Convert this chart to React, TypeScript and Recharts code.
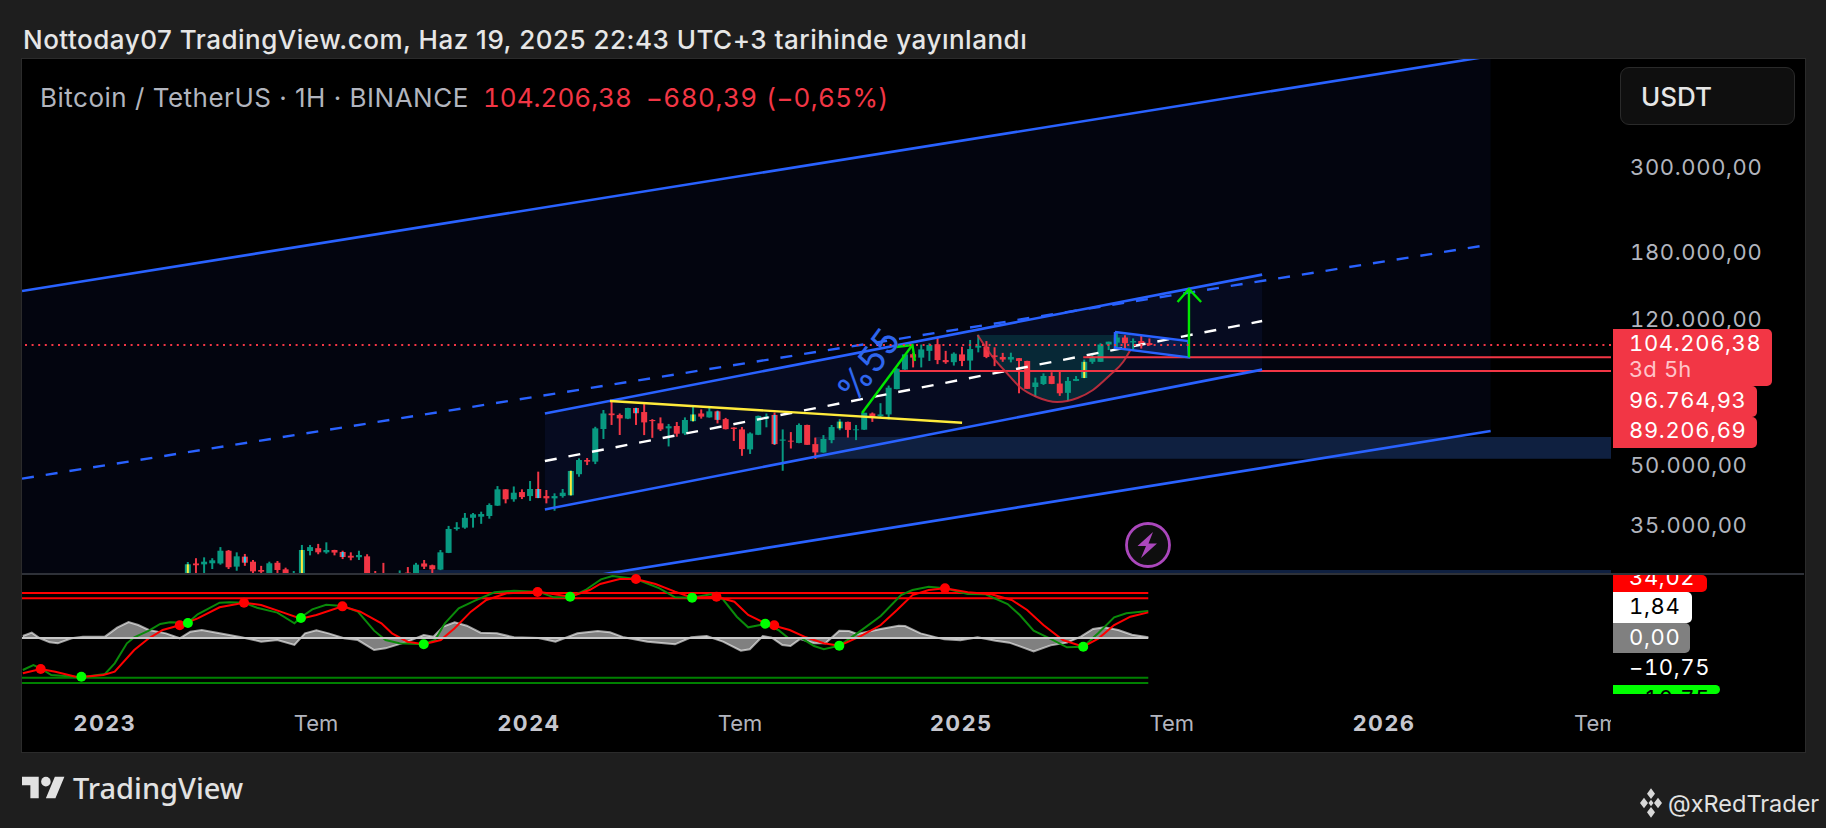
import React from 'react';
import { ComposedChart, Bar, Cell, Line, Area, XAxis, YAxis, ReferenceArea, ReferenceLine } from 'recharts';

// ---------- candles (weekly bars, first bar is week 10 of the time axis) ----------
const firstCandleWeek = 10;
const candleOpen = [25000,28100,27950,28130,28100,30330,27570,29270,28400,27020,25800,28200,27130,25800,25700,30280,30800,30040,30460,30100,29430,29170,29330,26000,26300,26000,26000,26600,26400,28100,27800,27080,29940,34560,34840,36960,37200,37360,39750,43840,41290,43130,42100,43930,42100,41530,42100,42300,48000,52270,51750,62960,69100,68500,67000,71400,69700,66450,65130,63200,64100,61300,66000,69100,67500,70000,66800,63500,62800,55700,60800,67300,68500,58700,58700,57900,64500,57500,54700,58900,63200,65700,62500,62700,69100,68000,68700,80000,89900,98600,96600,100600,104700,95200,94000,98500,94900,102600,103200,97900,97000,95500,96300,94700,81000,82500,86500,82700,78200,84000,85500,94200,94200,104500,105700,109000,105800,106700,105400];
const candleHigh = [28350,29000,29150,29000,31000,30460,30040,29750,28690,27700,28400,28530,27400,26860,31400,31400,31600,31900,30500,30330,30040,30330,29700,26860,28200,26300,26950,27500,28200,28690,27900,30460,35200,36000,38040,38040,38340,40300,44700,43900,44600,43840,46080,48740,43660,42800,43930,49100,52800,52900,63800,70560,74480,69100,71500,71500,73100,66800,67500,64900,65670,67500,72500,70800,72300,70300,67300,63600,63700,61700,68200,69100,69500,62800,61800,65100,64600,59800,60700,64500,66800,65800,64500,69400,69500,73500,81700,90600,98500,99400,104500,105200,108900,100600,99700,103100,107400,110800,106700,102800,99400,99500,96400,94800,85700,87900,88500,88900,86000,86500,95500,98500,105300,106300,112800,110500,108400,110000,108400];
const candleLow = [24800,26000,26000,27180,27900,27180,26900,27700,26000,25500,25500,25800,25500,25500,25500,29500,29700,29800,29500,28850,28640,28690,25500,25500,25500,25500,25500,25500,26200,27180,26400,27000,29900,34230,34600,34840,35640,36760,39700,40300,40700,41350,40900,41600,40300,38560,41700,42200,47280,50700,51000,59280,64500,60730,66800,64500,60700,59700,62200,56700,60100,60700,65800,67000,67400,65100,62800,58600,53600,54200,60700,63600,57200,49000,56000,57800,57250,52600,54600,57800,62500,59800,58900,62600,65700,67500,66700,79900,89800,91100,91100,94700,92900,93100,92100,91800,89300,99700,96300,91800,94200,93900,78000,80100,76300,82000,82400,76800,74600,83900,85400,93100,94100,101100,101100,101100,101100,102000,103800];
const candleClose = [27960,27800,28400,28640,30330,27470,29330,28230,26800,26750,28130,27020,26400,26400,30460,31000,30040,30460,30000,29200,29100,29560,25900,25800,25900,26200,26300,26000,27900,27570,27130,30040,34560,34900,36960,37740,37800,39900,43840,41290,42960,41840,43930,41600,41530,42100,42960,48950,52270,51750,63200,69100,68400,67100,71400,69200,65500,66000,62800,64000,61200,66450,68700,67800,70000,66500,62900,62960,55800,61300,68100,67900,57500,59100,58350,64500,57250,54700,59300,63700,65800,62600,62800,69400,67800,68700,80650,90400,98500,96600,101500,104200,95200,94000,98900,94700,101700,103700,97000,97000,95500,97000,94700,80100,83200,86500,82500,78000,84000,85000,94200,97000,104500,106300,109000,105300,106700,104800,104206];
const yellowMarkWeeks = [10,24,57,72,90,120];
const cyanMarkWeeks = [17,29,53,65,75,82];

// ---------- price pane drawings: [weeks], [prices] ----------
const outerUpperWeeks = [-10.2,170.4];
const outerUpperPrices = [144070,590000];
const outerLowerPrices = [15000,62200];
const outerMidWeeks = [-10.2,169.5];
const outerMidPrices = [46750,189100];
const innerWeeks = [54.1,142.3];
const innerUpperPrices = [69130,158970];
const innerLowerPrices = [38860,89900];
const innerMidPrices = [51960,120350];
const yellowWeeks = [62.1,105.4];
const yellowPrices = [74460,65380];
const arrowUpWeeks = [93.1,99.3];
const arrowUpPrices = [69300,104206];
const arrowUpHeadWeeks = [97.3,99.3,99.6];
const arrowUpHeadPrices = [102960,104206,94670];
const targetWeeks = [133.3,133.3];
const targetPrices = [96765,145800];
const targetHeadWeeks = [131.9,133.3,134.8];
const targetHeadPrices = [134900,145800,134900];
const cupWeeks = [107.3,109.2,110.9,112.5,114.6,117.1,119.6,121.5,123.6,125.2,126.1];
const cupPrices = [110650,96765,88100,81000,76280,74020,75820,79550,87040,94100,101130];
const cupTopPrice = 110650;
const flagWeeks = [124.2,133.2,133.3,124.2,124.2];
const flagPrices = [112660,106740,96765,102350,112660];
const flagFillWeeks = [124.2,133.25];
const flagFillUpper = [112660,106740];
const flagFillLower = [102350,96765];
const lastPrice = 104206.38;
const level1 = 96764.93;
const level2 = 89206.69;
const level1Weeks = [120.3,185.2];
const level2Weeks = [97.7,185.2];
const zoneWeeks = [87.3,185.2];
const zonePrices = [52690,60000];
const floorWeeks = [38.4,185.2];
const floorPrices = [20000,27020];
const axisWeeks = [-10.2,185.2];
const priceDomain = [26537,579500];
const priceTicks = [35000,50000,120000,180000,300000];

// ---------- oscillator pane ----------
const wt1Weeks = [-10.1,-8.8,-7.9,-6.6,-4.9,-2.9,0,1.2,2.7,3.6,5.4,6.8,8,10.2,11.4,14.1,15.3,17.1,18.7,21.2,23.3,24.1,25.5,27.2,29.2,31.1,33.1,34.5,36.2,39.2,40.6,41.8,43.5,45.5,47.9,50.3,53.3,55.2,57.2,59.1,61,62.4,65.3,68.2,70.1,72.2,74.5,76,77.7,79.1,81.2,82.8,84,85.7,87.2,88.4,90.3,92.5,95.4,97.9,99.3,101.3,103.3,106.1,108.3,111,112.5,114.2,116.3,118.3,120.3,122.2,124.1,125.6,128.3];
const wt1Values = [-42.7,-36,-40.4,-49.3,-50.7,-52.4,-48,-33.8,-7.1,0.9,9.8,18.7,20.9,20.4,31.6,47.1,47.6,47.1,40.4,33.8,19.6,27.6,38.2,44.4,42.7,35.1,9.8,-2.7,-7.1,-8.4,-2.7,19.6,39.6,49.8,60.9,63.1,61.8,54.2,54.2,64,78.2,82.7,78.7,66.2,54.2,53.8,58.2,51.6,28.4,14.2,18.7,10.7,0.4,-0.4,-10.7,-15.1,-10.2,6.2,29.3,57.3,64,68.4,66.2,58.7,58.2,45.3,30.7,9.8,-1.3,-12.4,-11.6,7.1,27.6,32.9,36];
const wt2Weeks = [-10.1,-7.9,-6.1,-3.6,-2.9,-0.2,1.2,3.6,5.4,7.1,9.2,11.4,14.1,17.1,19.2,21.6,24.1,26,29.2,31.4,34,35.3,37.2,39.2,41.3,43,45,46.9,49.4,53.3,57.2,59.6,60.9,63.3,65.3,67.7,70.1,72.2,75.2,77.4,79.1,81.2,82.3,84.2,86.2,88.4,90.3,93,95.4,97.4,99.3,101.3,103.3,106.1,109,111.5,113.4,115.4,117.8,120.3,122.2,124.1,126.1,128.3];
const wt2Values = [-47.1,-41.3,-44.9,-51.6,-52,-49.3,-44.9,-16,-0.4,10.7,16.9,26.2,40.9,47.1,44,35.1,25.8,30.7,42.2,35.1,19.6,6.2,-4.9,-8.4,-2.7,12.9,35.1,50.7,59.6,61.8,55.1,64,72,78.7,78.7,72,61.8,53.8,55.1,48.4,30.7,19.6,16.4,10.7,0.9,-7.1,-10.2,2.7,17.3,37.3,57.3,64,66.2,60.9,58.2,50.7,37.3,17.3,-2.7,-11.6,-0.4,17.3,28.4,34.2];
const histWeeks = [-10.1,-9,-8,-6.8,-5.8,-4.1,-2.7,0,1.5,2.9,4.1,5.4,7.5,9.2,10.5,11.9,14.1,16.8,19.2,21.2,23.3,24.6,26,27.5,29.4,31.1,33.1,34.5,37.2,39.2,40.4,41.6,43,44.5,46.2,48.2,50.3,53.3,55.4,58.1,60.6,62.1,63.8,66.7,70.1,72.1,74,76,78.2,79.3,80.9,82,83.3,84.3,85.5,87.2,88.6,90.3,91.5,92.5,95.4,97.6,98.4,100.3,103.2,105.2,107.3,109.5,111.2,114.2,116.3,118.3,120,121.5,122.9,124.6,126.3,128.3];
const histValues = [2.7,7.1,-0.4,-5.8,-7.1,-0.4,1.8,1.8,13.8,21.3,17.3,10.7,6.2,-0.4,8.4,10.7,6.2,0.9,-4.9,-2.7,-9.3,6.2,10.2,6.2,-0.4,-2.7,-16,-13.8,-4.9,4,1.8,15.1,20.9,16.4,7.1,6.2,0.9,0,-4.9,6.2,9.3,7.6,0.9,-4.9,-8.4,0.9,2.7,-4.9,-16.9,-15.1,2.7,0.4,-9.3,-10.7,-1.3,-7.1,-7.1,9.8,9.3,5.3,12,16.4,16,6.2,-1.8,-3.1,0.9,-3.6,-6.2,-17.8,-9.8,-6.2,1.8,12,14.2,10.7,4.4,0.9];
const redSignalWeeks = [-7.9,9.2,17.1,29.2,53.2,65.3,75.2,82.3,103.3];
const redSignalValues = [-41.3,16.9,47.1,42.2,61.3,78.7,55.1,16.9,66.2];
const greenSignalWeeks = [-2.9,10.2,24.1,39.2,57.2,72.2,81.2,90.3,120.3];
const greenSignalValues = [-51.6,20,26.7,-8.4,55.1,53.8,19.1,-10.2,-11.6];
const oscWeeks = [-10.2,128.3];
const oscDomain = [-74.67,85.33];
const timeTicks = [0,25.95,52.15,78.1,105.3,131.2,157.3,183.4];
const timeLabels = ['2023','Tem','2024','Tem','2025','Tem','2026','Tem'];

// ---------- text ----------
const titleText = 'Nottoday07 TradingView.com, Haz 19, 2025 22:43 UTC+3 tarihinde yayınlandı';
const symbolText = 'Bitcoin / TetherUS · 1H · BINANCE';
const legendValues = ['104.206,38','−680,39','(−0,65%)'];

const UI = 'Inter, "Noto Sans", sans-serif';
const TNUM = '"tnum" 1';
const BLUE = '#2962ff';
const RED = '#f23645';
const TEAL = '#089981';
const LIME = '#00e600';

const pts = (weeks: number[], values: number[]) => weeks.map((week, i) => ({ week, price: values[i] }));
const band = (weeks: number[], low: number[], high: number[]) => weeks.map((week, i) => ({ week, range: [low[i], high[i]] }));
const fmt = (n: number) => n.toFixed(2).replace('.', ',').replace(/\B(?=(\d{3})+(?!\d))(?=.*,)/g, '.');

const candles = candleOpen.map((o, i) => {
  const c = candleClose[i];
  const label = firstCandleWeek + i;
  const lo = Math.min(o, c);
  const hi = Math.max(o, c);
  const up = c >= o;
  const isY = yellowMarkWeeks.includes(label);
  const isC = cyanMarkWeeks.includes(label);
  return {
    week: 10.2 + i * 1.0021,
    wick: [candleLow[i], candleHigh[i]],
    body: [lo, hi],
    mark: isY || isC ? [lo, hi] : null,
    color: up ? TEAL : RED,
    markColor: isY ? '#ffeb3b' : '#18dcff',
  };
});

const seg = (key: string, data: any[], stroke: string, width = 2, extra: any = {}) => (
  <Line key={key} data={data} dataKey="price" stroke={stroke} strokeWidth={width} dot={false} activeDot={false}
    isAnimationActive={false} legendType="none" type="linear" {...extra} />
);

const PriceTick = ({ x, y, payload }: any) => (
  <text x={x + 17} y={y - 2} dominantBaseline="central" fill="#b2b5be" fontFamily={UI} fontSize={22} letterSpacing={0.65} style={{ fontFeatureSettings: TNUM }}>{fmt(payload.value)}</text>
);

const TimeTick = ({ x, payload }: any) => {
  const label = timeLabels[timeTicks.indexOf(payload.value)];
  const year = label !== 'Tem';
  return (
    <text x={x} y={149} textAnchor="middle" dominantBaseline="central" fill={year ? '#c6c7cf' : '#b2b5be'}
      fontFamily={UI} fontSize={22} fontWeight={year ? 700 : 400} letterSpacing={year ? 1.5 : 0}>{label}</text>
  );
};

const Box = ({ top, bottom, right, bg, color, text, cy, sub }: any) => (
  <div style={{ position: 'absolute', left: 1613, top, width: right - 1613, height: bottom - top, background: bg, borderRadius: '0 5px 5px 0', overflow: 'hidden' }}>
    <div style={{ position: 'absolute', left: 16, top: cy - top - 14, height: 28, lineHeight: '28px', font: `400 22px ${UI}`, letterSpacing: 0.65, fontFeatureSettings: TNUM, color, whiteSpace: 'nowrap' }}>{text}</div>
    {sub}
  </div>
);

const legendStyle: any = { position: 'absolute', top: 82, font: `400 26px ${UI}`, whiteSpace: 'nowrap' };

export default function App() {
  return (
    <div style={{ position: 'absolute', left: 0, top: 0, width: 1826, height: 828, background: '#1e1e1e', overflow: 'hidden', fontFamily: UI }}>
      <div style={{ position: 'absolute', left: 23, top: 24, font: `500 26px ${UI}`, letterSpacing: 0.5, color: '#e6e6e6', whiteSpace: 'nowrap' }}>{titleText}</div>

      <div style={{ position: 'absolute', left: 21, top: 58, width: 1783, height: 693, background: '#000', border: '1px solid #2b2b2b', boxSizing: 'content-box' }} />

      <div style={{ position: 'absolute', left: 22, top: 59 }}>
        <ComposedChart width={1782} height={514} data={candles} margin={{ top: 0, right: 0, bottom: 0, left: 0 }}>
          <XAxis dataKey="week" type="number" domain={axisWeeks} allowDataOverflow hide />
          <XAxis xAxisId="wick" dataKey="week" type="number" domain={axisWeeks} allowDataOverflow hide />
          <XAxis xAxisId="body" dataKey="week" type="number" domain={axisWeeks} allowDataOverflow hide />
          <XAxis xAxisId="mark" dataKey="week" type="number" domain={axisWeeks} allowDataOverflow hide />
          <YAxis scale="log" domain={priceDomain} allowDataOverflow orientation="right" width={193} ticks={priceTicks}
            axisLine={false} tickLine={false} tickSize={0} interval={0} tick={<PriceTick />} />

          <Area data={band(outerUpperWeeks, outerLowerPrices, outerUpperPrices)} dataKey="range" fill="#03050f" fillOpacity={1} stroke="none" isAnimationActive={false} legendType="none" dot={false} activeDot={false} />
          <Area data={band(innerWeeks, innerLowerPrices, innerUpperPrices)} dataKey="range" fill="#060b20" fillOpacity={1} stroke="none" isAnimationActive={false} legendType="none" dot={false} activeDot={false} />
          <ReferenceArea x1={zoneWeeks[0]} x2={zoneWeeks[1]} y1={zonePrices[0]} y2={zonePrices[1]} fill="#0f2040" fillOpacity={1} stroke="none" ifOverflow="hidden" />
          <ReferenceArea x1={floorWeeks[0]} x2={floorWeeks[1]} y1={floorPrices[0]} y2={floorPrices[1]} fill="#0f2040" fillOpacity={1} stroke="none" ifOverflow="hidden" />

          {seg('innerMid', pts(innerWeeks, innerMidPrices), '#ffffff', 2.4, { strokeDasharray: '12 12' })}
          {seg('outerMid', pts(outerMidWeeks, outerMidPrices), BLUE, 2.4, { strokeDasharray: '12 12' })}
          {seg('level2', pts(level2Weeks, [level2, level2]), RED, 2)}
          {seg('level1', pts(level1Weeks, [level1, level1]), RED, 2)}

          <Bar xAxisId="wick" dataKey="wick" barSize={2} isAnimationActive={false} legendType="none">
            {candles.map((c, i) => <Cell key={i} fill={c.color} />)}
          </Bar>
          <Bar xAxisId="body" dataKey="body" barSize={6} isAnimationActive={false} legendType="none">
            {candles.map((c, i) => <Cell key={i} fill={c.color} />)}
          </Bar>
          <Bar xAxisId="mark" dataKey="mark" barSize={2} isAnimationActive={false} legendType="none">
            {candles.map((c, i) => <Cell key={i} fill={c.markColor} />)}
          </Bar>

          <Area data={cupWeeks.map((week, i) => ({ week, range: [cupPrices[i], cupTopPrice] }))} dataKey="range" fill="#0fa08f" fillOpacity={0.2} stroke="none" isAnimationActive={false} legendType="none" dot={false} activeDot={false} type="monotone" />
          {seg('cup', pts(cupWeeks, cupPrices), '#d5303f', 2, { type: 'monotone', strokeOpacity: 0.85 })}
          <Area data={band(flagFillWeeks, flagFillLower, flagFillUpper)} dataKey="range" fill={BLUE} fillOpacity={0.18} stroke="none" isAnimationActive={false} legendType="none" dot={false} activeDot={false} />

          {seg('outerUpper', pts(outerUpperWeeks, outerUpperPrices), BLUE, 2.6)}
          {seg('outerLower', pts(outerUpperWeeks, outerLowerPrices), BLUE, 2.6)}
          {seg('innerUpper', pts(innerWeeks, innerUpperPrices), BLUE, 2.6)}
          {seg('innerLower', pts(innerWeeks, innerLowerPrices), BLUE, 2.6)}
          {seg('flag', pts(flagWeeks, flagPrices), BLUE, 2.4)}
          {seg('yellow', pts(yellowWeeks, yellowPrices), '#ffeb3b', 2.4)}
          {seg('arrow1', pts(arrowUpWeeks, arrowUpPrices), LIME, 2.4)}
          {seg('arrow1h', pts(arrowUpHeadWeeks, arrowUpHeadPrices), LIME, 2.4)}
          {seg('arrow2', pts(targetWeeks, targetPrices), LIME, 2.4)}
          {seg('arrow2h', pts(targetHeadWeeks, targetHeadPrices), LIME, 2.4)}

          <ReferenceLine y={lastPrice} stroke={RED} strokeWidth={2} strokeDasharray="2 4.6" ifOverflow="hidden" />
        </ComposedChart>
      </div>

      <div style={{ position: 'absolute', left: 22, top: 573, width: 1782, height: 2, background: '#2e3138' }} />

      <div style={{ position: 'absolute', left: 22, top: 574 }}>
        <ComposedChart width={1589} height={177} margin={{ top: 0, right: 0, bottom: 0, left: 0 }}>
          <XAxis dataKey="week" type="number" domain={axisWeeks} allowDataOverflow height={57} ticks={timeTicks} interval={0}
            axisLine={false} tickLine={false} tick={<TimeTick />} />
          <YAxis domain={oscDomain} allowDataOverflow hide />
          {seg('ob1', pts(oscWeeks, [60, 60]), '#ff0000', 2)}
          {seg('ob2', pts(oscWeeks, [53, 53]), '#ff0000', 2)}
          {seg('os1', pts(oscWeeks, [-53, -53]), '#008000', 2)}
          {seg('os2', pts(oscWeeks, [-60, -60]), '#008000', 2)}
          {seg('wt1', pts(wt1Weeks, wt1Values), '#0a8a0a', 2)}
          {seg('wt2', pts(wt2Weeks, wt2Values), '#ff0000', 2)}
          <Area data={pts(histWeeks, histValues)} dataKey="price" baseValue={0} fill="#ffffff" fillOpacity={0.5} stroke="#ffffff" strokeOpacity={0.6} strokeWidth={2} isAnimationActive={false} legendType="none" dot={false} activeDot={false} />
          {seg('zero', pts(oscWeeks, [0, 0]), '#c8c8c8', 2)}
          {seg('redDots', pts(redSignalWeeks, redSignalValues), 'none', 0, { dot: { r: 5, fill: '#ff0000', stroke: 'none' } })}
          {seg('greenDots', pts(greenSignalWeeks, greenSignalValues), 'none', 0, { dot: { r: 5, fill: '#00ff00', stroke: 'none' } })}
        </ComposedChart>
      </div>

      {/* legend */}
      <div style={{ ...legendStyle, left: 40, letterSpacing: 0.5, color: '#b2b5be' }}>{symbolText}</div>
      <div style={{ ...legendStyle, left: 483, fontFeatureSettings: TNUM, color: RED }}>{legendValues[0]}</div>
      <div style={{ ...legendStyle, left: 646, letterSpacing: 0.5, fontFeatureSettings: TNUM, color: RED }}>{legendValues[1]}</div>
      <div style={{ ...legendStyle, left: 766, letterSpacing: 0.3, fontFeatureSettings: TNUM, color: RED }}>{legendValues[2]}</div>

      {/* currency button */}
      <div style={{ position: 'absolute', left: 1620, top: 67, width: 175, height: 58, boxSizing: 'border-box', background: '#0f0f0f', border: '1px solid #2a2a2a', borderRadius: 9 }} />
      <div style={{ position: 'absolute', left: 1641, top: 81, font: `500 26px ${UI}`, color: '#e6e6e6' }}>USDT</div>

      {/* drawing label */}
      <div style={{ position: 'absolute', left: 868, top: 365, transform: 'translate(-50%,-50%) rotate(-54deg)', font: `400 36px ${UI}`, color: '#2f66ee', whiteSpace: 'nowrap' }}>%55</div>

      {/* bolt */}
      <svg width="50" height="50" style={{ position: 'absolute', left: 1123, top: 520 }} viewBox="0 0 50 50">
        <circle cx="25" cy="25" r="21.5" fill="#0e0e0e" stroke="#ab47bc" strokeWidth="2.8" />
        <path d="M30 12 L14.5 26 L23 26 L18 38 L34 23.5 L25.5 23.5 Z" fill="#ab47bc" />
      </svg>

      {/* axis badges */}
      <Box top={329} bottom={386} right={1772} bg={RED} color="#fff" text="104.206,38" cy={344}
        sub={<div style={{ position: 'absolute', left: 16, top: 27, height: 26, lineHeight: '26px', font: `400 22px ${UI}`, letterSpacing: 0.65, color: '#ffc4c9' }}>3d 5h</div>} />
      <Box top={386} bottom={417} right={1757} bg={RED} color="#fff" text="96.764,93" cy={400.5} />
      <Box top={417} bottom={448} right={1757} bg={RED} color="#fff" text="89.206,69" cy={431} />
      <Box top={575} bottom={592} right={1707} bg="#ff0000" color="#fff" text="34,02" cy={578} />
      <Box top={592} bottom={623} right={1692} bg="#ffffff" color="#000" text="1,84" cy={607} />
      <Box top={623} bottom={653} right={1690} bg="#808080" color="#fff" text="0,00" cy={638} />
      <Box top={653} bottom={683} right={1720} bg="transparent" color="#fff" text="−10,75" cy={668} />
      <Box top={685} bottom={694} right={1720} bg="#00ff00" color="#000" text="−10,75" cy={699} />

      {/* footer */}
      <svg width="43" height="33.6" viewBox="0 0 36 28" style={{ position: 'absolute', left: 22, top: 772 }} fill="#e2e2e2">
        <path d="M14 22H7V11H0V4h14v18zM28 22h-8l7.5-18h8L28 22z" /><circle cx="20" cy="8" r="4" />
      </svg>
      <div style={{ position: 'absolute', left: 73, top: 768, font: `500 29px "Noto Sans", ${UI}`, color: '#e2e2e2' }}>TradingView</div>

      <svg width="24" height="32" viewBox="0 0 24 24" style={{ position: 'absolute', left: 1639, top: 787 }} fill="#d8d8d8" preserveAspectRatio="none">
        <path d="M12 1l4 4-4 4-4-4zM12 15l4 4-4 4-4-4zM5 8l4 4-4 4-4-4zM19 8l4 4-4 4-4-4zM12 9.5l2.5 2.5-2.5 2.5L9.5 12z" />
      </svg>
      <div style={{ position: 'absolute', left: 1668, top: 789, font: `400 23.5px ${UI}`, color: '#e2e2e2', whiteSpace: 'nowrap' }}>@xRedTrader</div>
    </div>
  );
}
